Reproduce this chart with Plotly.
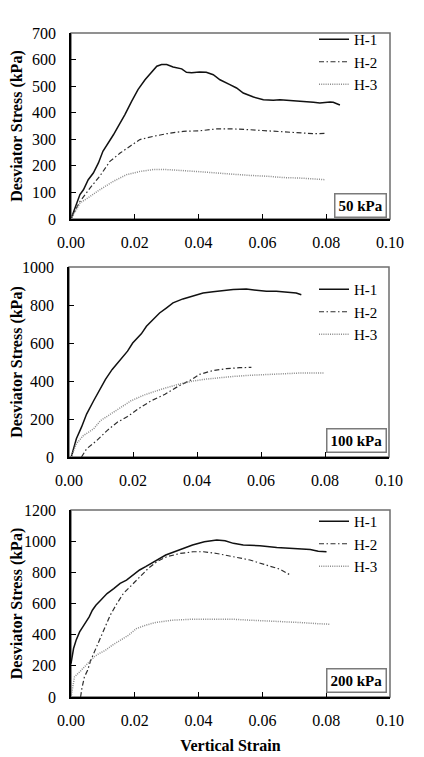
import plotly.graph_objects as go

# ---------------- data ----------------
# 50 kPa
p50_h1_strain = [0, 0.0028, 0.0039, 0.0054, 0.007, 0.0086, 0.010, 0.0117, 0.0133, 0.0148, 0.0169, 0.019, 0.021, 0.0232, 0.0253, 0.0269, 0.0284, 0.030, 0.032, 0.0347, 0.0362, 0.0378, 0.0403, 0.0424, 0.0446, 0.0467, 0.0498, 0.0519, 0.054, 0.0572, 0.0603, 0.0634, 0.0655, 0.0687, 0.0718, 0.076, 0.078, 0.0812, 0.0822, 0.0843]
p50_h1_stress = [0, 92, 110, 148, 173, 211, 255, 286, 317, 349, 393, 443, 487, 524, 552, 575, 581, 581, 572, 565, 552, 550, 553, 552, 543, 524, 506, 493, 474, 459, 449, 447, 449, 447, 443, 439, 437, 440, 439, 429]
p50_h2_strain = [0, 0.0028, 0.006, 0.009, 0.0122, 0.0154, 0.0185, 0.0216, 0.0258, 0.030, 0.0352, 0.0404, 0.0457, 0.0509, 0.0561, 0.0613, 0.0666, 0.0718, 0.076, 0.0796]
p50_h2_stress = [0, 66, 117, 161, 217, 248, 274, 299, 311, 321, 330, 332, 339, 339, 336, 332, 330, 326, 321, 322]
p50_h3_strain = [0, 0.0028, 0.006, 0.009, 0.0133, 0.0174, 0.0216, 0.0258, 0.030, 0.0352, 0.0404, 0.0457, 0.0509, 0.0561, 0.0613, 0.0666, 0.0718, 0.077, 0.0796]
p50_h3_stress = [0, 60, 85, 110, 142, 167, 179, 186, 186, 183, 178, 173, 168, 164, 161, 156, 154, 150, 148]

# 100 kPa
p100_h1_strain = [0.0007, 0.0023, 0.0039, 0.0055, 0.0077, 0.0098, 0.0114, 0.0135, 0.0162, 0.0183, 0.0199, 0.0226, 0.0242, 0.0263, 0.0283, 0.0304, 0.0325, 0.0356, 0.0388, 0.0419, 0.045, 0.0481, 0.0513, 0.0554, 0.0585, 0.0617, 0.0648, 0.069, 0.071, 0.0726]
p100_h1_stress = [0, 96, 157, 226, 296, 365, 409, 461, 513, 557, 600, 648, 688, 723, 758, 784, 811, 832, 846, 863, 870, 877, 881, 884, 877, 872, 872, 867, 863, 854]
p100_h2_strain = [0.0039, 0.0055, 0.0087, 0.0119, 0.0151, 0.0183, 0.0215, 0.0257, 0.030, 0.0343, 0.0385, 0.0408, 0.045, 0.0492, 0.0533, 0.057]
p100_h2_stress = [0, 43, 87, 139, 183, 213, 252, 296, 330, 374, 409, 435, 455, 465, 470, 472]
p100_h3_strain = [0.0007, 0.0023, 0.0045, 0.0077, 0.0098, 0.013, 0.0162, 0.0194, 0.0236, 0.0289, 0.0343, 0.0388, 0.0429, 0.0471, 0.0513, 0.0565, 0.0617, 0.0669, 0.072, 0.0799]
p100_h3_stress = [0, 70, 113, 148, 191, 226, 264, 296, 327, 357, 383, 400, 410, 418, 424, 430, 435, 439, 442, 442]

# 200 kPa
p200_h1_strain = [0, 0.0008, 0.0016, 0.0027, 0.0037, 0.0047, 0.0057, 0.0067, 0.0078, 0.0093, 0.0113, 0.0134, 0.0154, 0.0174, 0.0195, 0.0215, 0.0234, 0.0265, 0.0297, 0.0339, 0.0381, 0.0418, 0.0457, 0.0483, 0.0509, 0.054, 0.0592, 0.0645, 0.0697, 0.075, 0.0775, 0.0801]
p200_h1_stress = [214, 311, 364, 418, 450, 482, 514, 557, 589, 621, 664, 696, 729, 750, 782, 815, 836, 874, 911, 943, 975, 996, 1007, 1003, 986, 975, 971, 960, 954, 947, 935, 932]
p200_h2_strain = [0.003, 0.0034, 0.0042, 0.0052, 0.0062, 0.0078, 0.0093, 0.0108, 0.0123, 0.0144, 0.0164, 0.0185, 0.0205, 0.0223, 0.0242, 0.0269, 0.030, 0.0342, 0.0383, 0.0415, 0.0457, 0.0509, 0.0561, 0.0613, 0.0655, 0.069]
p200_h2_stress = [0, 54, 129, 171, 236, 311, 386, 450, 525, 600, 664, 707, 750, 790, 825, 868, 900, 921, 932, 932, 921, 900, 879, 846, 820, 780]
p200_h3_strain = [0, 0.0006, 0.0011, 0.0027, 0.0042, 0.0057, 0.0072, 0.0088, 0.0108, 0.0129, 0.0154, 0.018, 0.0205, 0.0234, 0.0265, 0.0318, 0.0381, 0.0457, 0.0509, 0.0561, 0.0613, 0.0666, 0.0718, 0.077, 0.0812]
p200_h3_stress = [0, 86, 129, 161, 193, 225, 257, 279, 300, 332, 364, 396, 439, 461, 478, 493, 499, 499, 499, 493, 489, 482, 478, 471, 467]

series_names = ["H-1", "H-2", "H-3"]
panel_labels = ["50 kPa", "100 kPa", "200 kPa"]
x_ticks = [0.00, 0.02, 0.04, 0.06, 0.08, 0.10]
y_ranges = [[0, 700], [0, 1000], [0, 1200]]
y_dticks = [100, 200, 200]

panels = [
    [(p50_h1_strain, p50_h1_stress), (p50_h2_strain, p50_h2_stress), (p50_h3_strain, p50_h3_stress)],
    [(p100_h1_strain, p100_h1_stress), (p100_h2_strain, p100_h2_stress), (p100_h3_strain, p100_h3_stress)],
    [(p200_h1_strain, p200_h1_stress), (p200_h2_strain, p200_h2_stress), (p200_h3_strain, p200_h3_stress)],
]

# ---------------- styling ----------------
OFF = 8  # page body margin
W, H = 424 - OFF, 757 - OFF
FONT = "Liberation Serif"
line_styles = [
    dict(color="#111111", width=1.5, dash="solid"),
    dict(color="#2e2e2e", width=1.2, dash="5px,2.5px,1.5px,2.5px"),
    dict(color="#8c8c8c", width=1.5, dash="1px,1.2px"),
]
# pixel boxes of plot areas (window coords): (left, right, top, bottom)
boxes = [(71, 390, 33, 219), (69, 389, 267, 457), (71, 390, 510, 697)]
legend_tops = [23, 273, 505]
label_boxes_y = [205, 440, 680]
title_standoffs = [6, 0, 0]


def px(xp):
    return (xp - OFF) / W


def py(yp):
    return 1 - (yp - OFF) / H


fig = go.Figure()
legend_keys = ["legend", "legend2", "legend3"]
layout = dict(
    width=W, height=H,
    margin=dict(l=0, r=0, t=0, b=0, autoexpand=False),
    paper_bgcolor="white", plot_bgcolor="white",
    font=dict(family=FONT, size=15, color="black"),
    showlegend=True,
    annotations=[], shapes=[],
)

for i, panel in enumerate(panels):
    xa = "x" if i == 0 else f"x{i+1}"
    ya = "y" if i == 0 else f"y{i+1}"
    for j, (xs, ys) in enumerate(panel):
        fig.add_trace(go.Scatter(
            x=xs, y=ys, mode="lines", name=series_names[j],
            line=line_styles[j], xaxis=xa, yaxis=ya,
            legend=legend_keys[i], showlegend=True,
        ))
    l, r, t, b = boxes[i]
    xkey = "xaxis" if i == 0 else f"xaxis{i+1}"
    ykey = "yaxis" if i == 0 else f"yaxis{i+1}"
    layout[xkey] = dict(
        domain=[px(l), px(r)], anchor=ya, range=[0, 0.1],
        tickvals=x_ticks, tickformat=".2f", automargin=False,
        showgrid=False, zeroline=False,
        showline=True, linecolor="black", linewidth=1.5,
        ticks="inside", ticklen=5, tickcolor="black", tickwidth=1,
        ticklabelstandoff=8,
        tickfont=dict(family=FONT, size=16, color="black"),
    )
    layout[ykey] = dict(
        domain=[py(b), py(t)], anchor=xa, range=y_ranges[i],
        dtick=y_dticks[i], automargin=False,
        showgrid=False, zeroline=False,
        showline=True, linecolor="black", linewidth=1.5,
        ticks="inside", ticklen=5, tickcolor="black", tickwidth=1,
        ticklabelstandoff=10,
        tickfont=dict(family=FONT, size=16, color="black"),
        title=dict(text="<b>Desviator Stress (kPa)</b>",
                   font=dict(family=FONT, size=16, color="black"),
                   standoff=title_standoffs[i]),
    )
    # grey frame on top/right
    layout["shapes"].append(dict(
        type="rect", xref=f"{xa} domain", yref=f"{ya} domain",
        x0=0, x1=1, y0=0, y1=1, line=dict(color="#6e6e6e", width=1.5),
        layer="below",
    ))
    layout[legend_keys[i]] = dict(
        x=px(314), y=py(legend_tops[i]), xanchor="left", yanchor="top",
        bgcolor="rgba(0,0,0,0)", borderwidth=0,
        font=dict(family=FONT, size=15, color="black"),
        tracegroupgap=0, itemwidth=30,
    )
    layout["annotations"].append(dict(
        text=f"<b>{panel_labels[i]}</b>", xref="paper", yref="paper",
        x=px(387), y=py(label_boxes_y[i]), xanchor="right", yanchor="middle",
        showarrow=False, bgcolor="white", bordercolor="#7a7a7a",
        borderwidth=1.5, borderpad=3,
        font=dict(family=FONT, size=15, color="black"),
    ))

layout["xaxis3"]["title"] = dict(text="<b>Vertical Strain</b>",
                                 font=dict(family=FONT, size=16, color="black"),
                                 standoff=12)

fig.update_layout(**layout)
fig.write_html("out.html")
